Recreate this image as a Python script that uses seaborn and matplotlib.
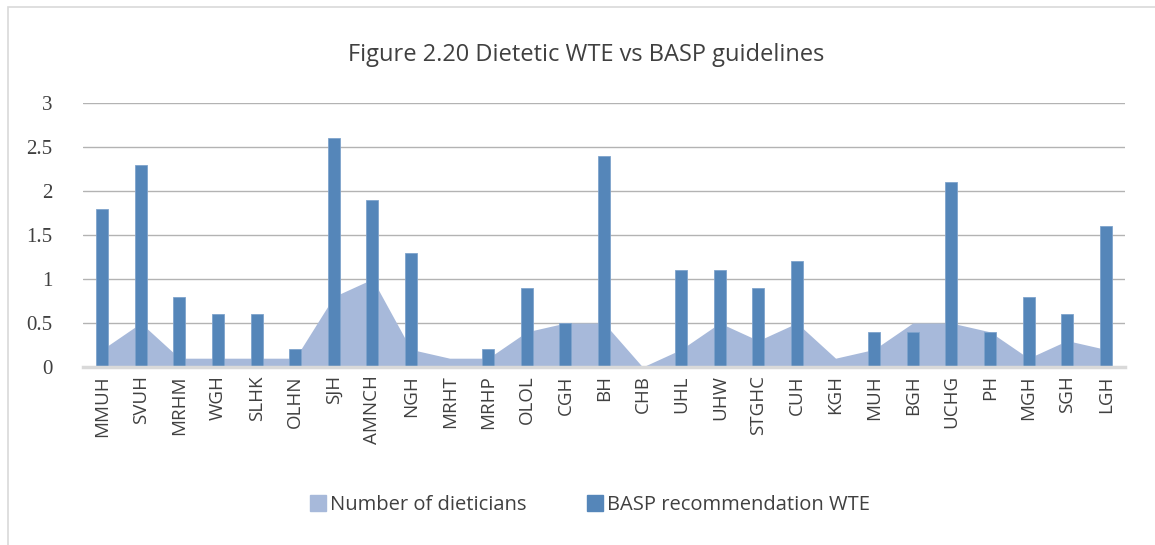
import seaborn as sns
import matplotlib.pyplot as plt
import pandas
from matplotlib.patches import Rectangle, Patch

# hospitals on the x axis
sites = ["MMUH", "SVUH", "MRHM", "WGH", "SLHK", "OLHN", "SJH", "AMNCH", "NGH",
         "MRHT", "MRHP", "OLOL", "CGH", "BH", "CHB", "UHL", "UHW", "STGHC",
         "CUH", "KGH", "MUH", "BGH", "UCHG", "PH", "MGH", "SGH", "LGH"]
# number of dieticians (area)
dieticians = [0.2, 0.5, 0.1, 0.1, 0.1, 0.1, 0.8, 1.0, 0.2,
              0.1, 0.1, 0.4, 0.5, 0.5, 0.0, 0.2, 0.5, 0.3,
              0.5, 0.1, 0.2, 0.5, 0.5, 0.4, 0.1, 0.3, 0.2]
# BASP recommendation WTE (bars)
basp = [1.8, 2.3, 0.8, 0.6, 0.6, 0.2, 2.6, 1.9, 1.3,
        0.0, 0.2, 0.9, 0.5, 2.4, 0.0, 1.1, 1.1, 0.9,
        1.2, 0.0, 0.4, 0.4, 2.1, 0.4, 0.8, 0.6, 1.6]

df = pandas.DataFrame({"site": sites, "dieticians": dieticians, "basp": basp})

area_col = "#A7B9DA"
bar_col = "#5586B9"

sns.set_theme(style="white")
plt.rcParams["font.family"] = ["Open Sans", "DejaVu Sans"]

fig = plt.figure(figsize=(11.55, 5.45), dpi=100)
ax = fig.add_axes([83 / 1155, 1 - 367 / 545, (1125 - 83) / 1155, (367 - 103) / 545])

# outer chart border
fig.patches.append(Rectangle((8 / 1155, -0.1), 1.2, 1 - 7 / 545 + 0.1,
                             transform=fig.transFigure, fill=False,
                             edgecolor="#d9d9d9", linewidth=1.2, zorder=0))

ax.fill_between(range(len(sites)), df["dieticians"], color=area_col, linewidth=0, zorder=2)
sns.barplot(data=df, x="site", y="basp", color=bar_col, width=0.31, saturation=1,
            edgecolor="#7fa3cc", linewidth=0.6, ax=ax, zorder=3)

ax.set_xlim(-0.5, len(sites) - 0.5)
ax.set_ylim(0, 3)
ax.set_yticks([0, 0.5, 1, 1.5, 2, 2.5, 3])
ax.set_yticklabels(["0", "0.5", "1", "1.5", "2", "2.5", "3"],
                   family=["Liberation Serif"], fontsize=15, color="#404040")
ax.tick_params(axis="y", length=0, pad=22)
ax.tick_params(axis="x", length=0, pad=6)
ax.set_xticks(range(len(sites)))
ax.set_xticklabels(sites, rotation=90, fontsize=13.5, color="#404040")
ax.grid(axis="y", color="#b3b3b3", linewidth=1, zorder=0)
ax.set_axisbelow(True)
for s in ["left", "right", "top"]:
    ax.spines[s].set_visible(False)
ax.spines["bottom"].set_color("#d9d9d9")
ax.spines["bottom"].set_linewidth(2.5)
ax.spines["bottom"].set_zorder(4)
ax.set_xlabel("")
ax.set_ylabel("")

fig.text(586 / 1155, 1 - 55 / 545, "Figure 2.20 Dietetic WTE vs BASP guidelines",
         ha="center", va="center", fontsize=17, color="#404040")

handles = [Patch(color=area_col, label="Number of dieticians"),
           Patch(color=bar_col, label="BASP recommendation WTE")]
fig.legend(handles=handles, loc="center", bbox_to_anchor=(590 / 1155, 1 - 505 / 545),
           ncol=2, frameon=False, fontsize=14.5, handlelength=0.8, handleheight=0.8,
           handletextpad=0.2, columnspacing=3.0, labelcolor="#404040")

plt.savefig("out.png")
